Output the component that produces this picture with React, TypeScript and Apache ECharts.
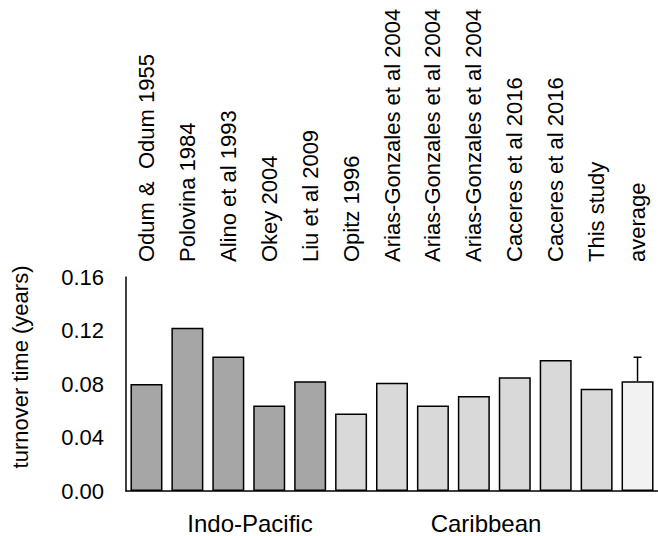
import React, { useEffect, useRef } from "react";
import * as echarts from "echarts";

const categories = [
  "Odum &  Odum 1955",
  "Polovina 1984",
  "Alino et al 1993",
  "Okey 2004",
  "Liu et al 2009",
  "Opitz 1996",
  "Arias-Gonzales et al 2004",
  "Arias-Gonzales et al 2004",
  "Arias-Gonzales et al 2004",
  "Caceres et al 2016",
  "Caceres et al 2016",
  "This study",
  "average",
];
const regions = [
  "Indo-Pacific", "Indo-Pacific", "Indo-Pacific", "Indo-Pacific", "Indo-Pacific",
  "Caribbean", "Caribbean", "Caribbean", "Caribbean", "Caribbean", "Caribbean", "Caribbean",
  "average",
];
const turnover = [0.080, 0.122, 0.1005, 0.064, 0.082, 0.058, 0.081, 0.064, 0.071, 0.085, 0.098, 0.0765, 0.082];
const averageErrorTop = 0.100;
const yTicks = [0, 0.04, 0.08, 0.12, 0.16];
const groupLabels = ["Indo-Pacific", "Caribbean"];

const regionColors: Record<string, string> = {
  "Indo-Pacific": "#a6a6a6",
  Caribbean: "#d9d9d9",
  average: "#f2f2f2",
};

const FONT = "'Liberation Sans', Arial, sans-serif";

export default function App() {
  const ref = useRef<HTMLDivElement>(null);
  useEffect(() => {
    if (!ref.current) return;
    const chart = echarts.init(ref.current, null, { renderer: "svg" });
    const lastIdx = turnover.length - 1;
    chart.setOption({
      animation: false,
      textStyle: { fontFamily: FONT, color: "#000" },
      grid: { left: 126, top: 277, height: 214, width: 537 },
      xAxis: [
        {
          type: "category",
          data: categories,
          position: "bottom",
          axisLine: { show: true, lineStyle: { color: "#000", width: 1.5 } },
          axisTick: { show: false },
          axisLabel: { show: false },
        },
        {
          type: "category",
          data: categories,
          position: "top",
          axisLine: { show: false },
          axisTick: { show: false },
          axisLabel: {
            show: true,
            rotate: -90,
            interval: 0,
            margin: 15,
            fontSize: 22,
            fontFamily: FONT,
            color: "#000",
          },
        },
      ],
      yAxis: {
        type: "value",
        min: yTicks[0],
        max: yTicks[yTicks.length - 1],
        interval: 0.04,
        axisLine: { show: true, lineStyle: { color: "#000", width: 1.5 } },
        axisTick: { show: false },
        splitLine: { show: false },
        axisLabel: {
          margin: 22,
          fontSize: 22,
          fontFamily: FONT,
          color: "#000",
          formatter: (v: number) => v.toFixed(2),
        },
      },
      series: [
        {
          type: "bar",
          xAxisIndex: 0,
          barWidth: 32,
          data: turnover.map((v, i) => ({
            value: v,
            itemStyle: {
              color: regionColors[regions[i]],
              borderColor: "#000",
              borderWidth: 1.5,
            },
          })),
        },
        {
          type: "custom",
          xAxisIndex: 0,
          z: 5,
          encode: { x: 0, y: [1, 2] },
          data: [[lastIdx, turnover[lastIdx], averageErrorTop]],
          renderItem: (params: any, api: any) => {
            const x = api.value(0);
            const p0 = api.coord([x, api.value(1)]);
            const p1 = api.coord([x, api.value(2)]);
            const st = { stroke: "#000", lineWidth: 1.5 };
            return {
              type: "group",
              children: [
                { type: "line", shape: { x1: p0[0], y1: p0[1], x2: p1[0], y2: p1[1] }, style: st },
                { type: "line", shape: { x1: p1[0] - 4, y1: p1[1], x2: p1[0] + 4, y2: p1[1] }, style: st },
              ],
            };
          },
        },
      ],
      graphic: [
        {
          type: "text",
          x: 20,
          y: 367,
          rotation: Math.PI / 2,
          style: {
            text: "turnover time (years)",
            fontSize: 22,
            fontFamily: FONT,
            fill: "#000",
            align: "center",
            verticalAlign: "middle",
          },
        },
        {
          type: "text",
          x: 250,
          y: 523,
          style: {
            text: groupLabels[0],
            fontSize: 24,
            fontFamily: FONT,
            fill: "#000",
            align: "center",
            verticalAlign: "middle",
          },
        },
        {
          type: "text",
          x: 486,
          y: 523,
          style: {
            text: groupLabels[1],
            fontSize: 24,
            fontFamily: FONT,
            fill: "#000",
            align: "center",
            verticalAlign: "middle",
          },
        },
      ],
    });
    return () => chart.dispose();
  }, []);
  return (
    <div
      ref={ref}
      style={{ position: "fixed", left: 0, top: 0, width: 658, height: 536, background: "#fff" }}
    />
  );
}
